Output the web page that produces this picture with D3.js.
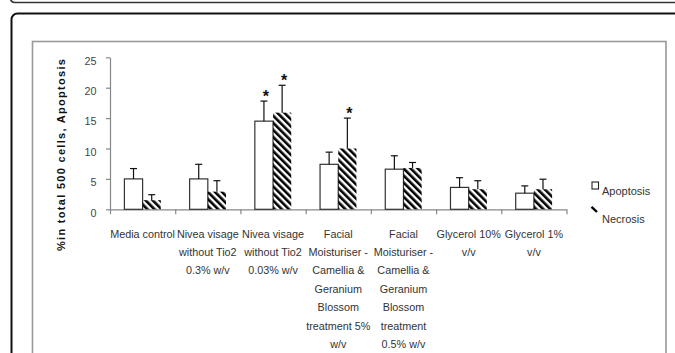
<!DOCTYPE html>
<html>
<head>
<meta charset="utf-8">
<script src="https://cdn.jsdelivr.net/npm/d3@7/dist/d3.min.js"></script>
<style>
  html, body { margin: 0; padding: 0; background: #fff; }
  svg { display: block; }
  text { font-family: "Liberation Sans", Arial, sans-serif; }
</style>
</head>
<body>
<svg id="chart" width="675" height="353"></svg>
<script>
// ---- data ----
const categories = [
  ["Media control"],
  ["Nivea visage", "without Tio2", "0.3% w/v"],
  ["Nivea visage", "without Tio2", "0.03% w/v"],
  ["Facial", "Moisturiser -", "Camellia &", "Geranium", "Blossom", "treatment 5%", "w/v"],
  ["Facial", "Moisturiser -", "Camellia &", "Geranium", "Blossom", "treatment", "0.5% w/v"],
  ["Glycerol 10%", "v/v"],
  ["Glycerol 1%", "v/v"]
];
const apoptosis    = [5.0, 5.0, 14.5, 7.4, 6.6, 3.6, 2.65];
const apoptosisErr = [1.7, 2.4, 3.3, 2.0, 2.2, 1.6, 1.2];
const necrosis     = [1.5, 2.9, 15.9, 10.0, 6.8, 3.3, 3.3];
const necrosisErr  = [0.9, 1.8, 4.5, 5.0, 0.9, 1.4, 1.65];
const apoptosisSig = [false, false, true, false, false, false, false];
const necrosisSig  = [false, false, true, true, false, false, false];
const yTicks = [0, 5, 10, 15, 20, 25];
const seriesNames = ["Apoptosis", "Necrosis"];
const yTitle = "%in total 500 cells, Apoptosis";

// ---- drawing ----
const svg = d3.select("#chart");
const defs = svg.append("defs");
defs.append("pattern")
  .attr("id", "hatch")
  .attr("patternUnits", "userSpaceOnUse")
  .attr("width", 5).attr("height", 5)
  .attr("patternTransform", "rotate(-45)")
  .append("rect")
  .attr("x", 0).attr("y", 0)
  .attr("width", 2.6).attr("height", 5)
  .attr("fill", "#000");

// frames
svg.append("path")
  .attr("d", "M10.5,-6 L10.5,-2 Q10.5,2.5 15,2.5 L690,2.5")
  .attr("fill", "none").attr("stroke", "#333").attr("stroke-width", 1.6);
svg.append("rect")
  .attr("x", 11.5).attr("y", 13.5).attr("width", 720).attr("height", 420)
  .attr("rx", 6).attr("fill", "none").attr("stroke", "#111").attr("stroke-width", 2);
svg.append("rect")
  .attr("x", 32.5).attr("y", 41.5).attr("width", 633.5).attr("height", 400)
  .attr("fill", "none").attr("stroke", "#999").attr("stroke-width", 1.6);

const x0 = 110, x1 = 566.5;
const x = d3.scaleBand().domain(d3.range(categories.length)).range([x0, x1]).padding(0);
const xEdge = d3.scaleLinear().domain([0, categories.length]).range([x0, x1]);
const y = d3.scaleLinear().domain([0, 25]).range([209.3, 57.3]);
const barW = 18.2;

// y axis
const yAxis = svg.append("g")
  .attr("transform", `translate(${x0},0)`)
  .call(d3.axisLeft(y).tickValues(yTicks).tickSize(4).tickSizeOuter(0).tickPadding(9.5));
yAxis.select(".domain").attr("stroke", "#888").attr("stroke-width", 1.2);
yAxis.selectAll(".tick line").attr("stroke", "#888").attr("stroke-width", 1.2);
yAxis.selectAll(".tick text")
  .attr("font-size", 10.8).attr("fill", "#444").attr("dy", "0.62em")
  .attr("font-family", "Liberation Sans, Arial, sans-serif");

// x axis (ticks at category boundaries)
const xAxis = svg.append("g")
  .attr("transform", `translate(0,${y(0)})`)
  .call(d3.axisBottom(xEdge).tickValues(d3.range(categories.length + 1))
    .tickFormat("").tickSize(5).tickSizeOuter(0));
xAxis.select(".domain").attr("stroke", "#888").attr("stroke-width", 1.2);
xAxis.selectAll(".tick line").attr("stroke", "#888").attr("stroke-width", 1.2);

// bars
const cx = i => x(i) + x.bandwidth() / 2;
const g = svg.append("g");

g.selectAll("rect.apo").data(apoptosis).join("rect")
  .attr("class", "apo")
  .attr("x", (d, i) => cx(i) - barW)
  .attr("y", d => y(d))
  .attr("width", barW)
  .attr("height", d => y(0) - y(d))
  .attr("fill", "#fff").attr("stroke", "#333").attr("stroke-width", 1.2);

g.selectAll("rect.nec").data(necrosis).join("rect")
  .attr("class", "nec")
  .attr("x", (d, i) => cx(i))
  .attr("y", d => y(d))
  .attr("width", barW)
  .attr("height", d => y(0) - y(d))
  .attr("fill", "url(#hatch)");

// error bars (upper only)
function errBars(vals, errs, off) {
  const eg = g.append("g").attr("stroke", "#111").attr("stroke-width", 1.2).attr("fill", "none");
  vals.forEach((v, i) => {
    const xc = cx(i) + off;
    const top = y(v + errs[i]);
    eg.append("line").attr("x1", xc).attr("x2", xc).attr("y1", y(v)).attr("y2", top);
    eg.append("line").attr("x1", xc - 3.5).attr("x2", xc + 3.5).attr("y1", top).attr("y2", top);
  });
}
errBars(apoptosis, apoptosisErr, -barW / 2);
errBars(necrosis, necrosisErr, barW / 2);

// significance stars
function stars(vals, errs, sig, off) {
  vals.forEach((v, i) => {
    if (!sig[i]) return;
    g.append("text")
      .attr("x", cx(i) + off + 2)
      .attr("y", y(v + errs[i]) - 8.5 + 9)
      .attr("text-anchor", "middle")
      .attr("font-size", 16).attr("font-weight", "bold").attr("fill", "#111")
      .text("*");
  });
}
stars(apoptosis, apoptosisErr, apoptosisSig, -barW / 2);
stars(necrosis, necrosisErr, necrosisSig, barW / 2);

// category labels
const lab = svg.append("g").attr("font-size", 10.8).attr("fill", "#333").attr("text-anchor", "middle");
categories.forEach((lines, i) => {
  lines.forEach((t, j) => {
    lab.append("text").attr("x", cx(i)).attr("y", 237.6 + j * 18.4).text(t);
  });
});

// y title
svg.append("text")
  .attr("transform", "translate(65,155) rotate(-90)")
  .attr("text-anchor", "middle")
  .attr("font-size", 11).attr("font-weight", "bold").attr("fill", "#111")
  .attr("textLength", 192).attr("lengthAdjust", "spacing")
  .text(yTitle);

// legend
const leg = svg.append("g");
leg.append("rect").attr("x", 592).attr("y", 182).attr("width", 6.5).attr("height", 7)
  .attr("fill", "#fff").attr("stroke", "#222").attr("stroke-width", 1.1);
leg.append("text").attr("x", 602).attr("y", 194.5).attr("font-size", 11).attr("fill", "#333").text(seriesNames[0]);
leg.append("line").attr("x1", 591.5).attr("y1", 206.8).attr("x2", 597).attr("y2", 212)
  .attr("stroke", "#000").attr("stroke-width", 2.4);
leg.append("text").attr("x", 602).attr("y", 223.3).attr("font-size", 11).attr("fill", "#333").text(seriesNames[1]);
</script>
</body>
</html>
